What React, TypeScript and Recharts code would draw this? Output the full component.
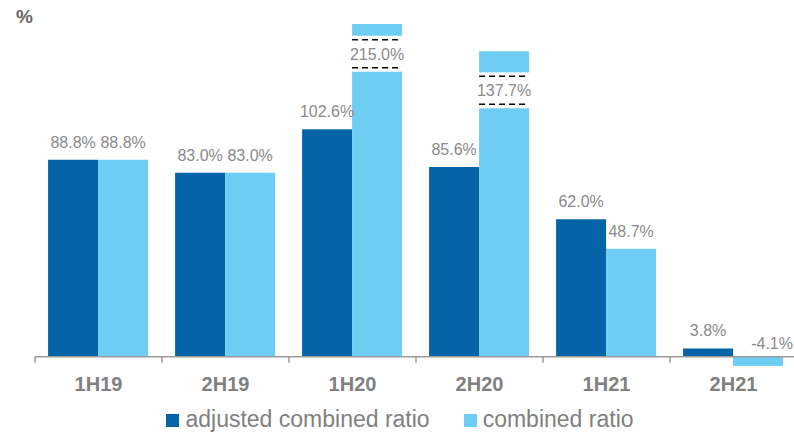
import { Bar, BarChart, LabelList, Legend, ReferenceLine, XAxis, YAxis } from 'recharts'

const categories = ['1H19', '2H19', '1H20', '2H20', '1H21', '2H21']
const adjustedRatio = [88.8, 83.0, 102.6, 85.6, 62.0, 3.8]
const combinedRatio = [88.8, 83.0, 215.0, 137.7, 48.7, -4.1]
// bar heights as drawn (1H20 is cut by an axis break)
const combinedDrawn = [88.8, 83.0, 150.0, 137.7, 48.7, -4.1]
// axis break span, in value units, for the broken bars
const breakLow: (number | null)[] = [null, null, 128.5, 112.0, null, null]
const breakHigh: (number | null)[] = [null, null, 144.7, 128.2, null, null]

const DARK = '#0563a8'
const LIGHT = '#6dcdf3'
const LABEL = '#8a8a8a'
const FONT = '"Liberation Sans", Arial, sans-serif'

const data = categories.map((name, i) => ({
  name,
  adjusted: adjustedRatio[i],
  combined: combinedRatio[i],
  drawn: combinedDrawn[i],
  breakLow: breakLow[i],
  breakHigh: breakHigh[i],
}))

const fmt = (v: number) => `${v.toFixed(1)}%`

function BrokenBar(props: any) {
  const { x, y, width, height, fill, payload } = props
  const top = Math.min(y, y + height)
  const h = Math.abs(height)
  if (payload == null || payload.breakLow == null) {
    return <rect x={x} y={top} width={width} height={h} fill={fill} />
  }
  const base = top + h
  const ppu = h / payload.drawn
  const gapBottom = base - payload.breakLow * ppu
  const gapTop = base - payload.breakHigh * ppu
  return (
    <g>
      <rect x={x} y={top} width={width} height={gapTop - top} fill={fill} />
      <rect x={x} y={gapBottom} width={width} height={base - gapBottom} fill={fill} />
      <line x1={x} x2={x + width} y1={gapTop + 4} y2={gapTop + 4} stroke="#000" strokeWidth={1.5} strokeDasharray="6 4" />
      <line x1={x} x2={x + width} y1={gapBottom - 4} y2={gapBottom - 4} stroke="#000" strokeWidth={1.5} strokeDasharray="6 4" />
      <text
        x={x + width / 2}
        y={(gapTop + gapBottom) / 2 + 6}
        textAnchor="middle"
        fill={LABEL}
        fontSize={16}
        fontFamily={FONT}
      >
        {fmt(payload.combined)}
      </text>
    </g>
  )
}

function ValueLabel(props: any) {
  const { x, y, width, height, value, index, skipBreaks } = props
  if (skipBreaks && breakLow[index] != null) return null
  const top = Math.min(y, y + height)
  const neg = value < 0
  return (
    <text
      x={x + width / 2 + (neg ? 14 : 0)}
      y={neg ? top - 8 : top - 12}
      textAnchor="middle"
      fill={LABEL}
      fontSize={16}
      fontFamily={FONT}
    >
      {fmt(value)}
    </text>
  )
}

function CategoryTick(props: any) {
  const { x, y, payload } = props
  return (
    <text x={x} y={y + 12} textAnchor="middle" fill="#808080" fontSize={20} fontWeight="bold" fontFamily={FONT}>
      {payload.value}
    </text>
  )
}

function ZeroAxis(props: any) {
  const { x1, x2, y1 } = props
  const step = (x2 - x1) / categories.length
  return (
    <g>
      <line x1={x1} x2={x2} y1={y1} y2={y1} stroke="#9a9a9a" strokeWidth={1.5} />
      {categories.map((_, i) => (
        <line key={i} x1={x1 + i * step} x2={x1 + i * step} y1={y1} y2={y1 + 6} stroke="#9a9a9a" strokeWidth={1.5} />
      ))}
    </g>
  )
}

function LegendBox() {
  const items = [
    { label: 'adjusted combined ratio', color: DARK },
    { label: 'combined ratio', color: LIGHT },
  ]
  return (
    <div style={{ display: 'flex', justifyContent: 'center', gap: 34, fontFamily: FONT }}>
      {items.map((it) => (
        <div key={it.label} style={{ display: 'flex', alignItems: 'center' }}>
          <span style={{ width: 13, height: 13, background: it.color, marginRight: 6, marginTop: 2 }} />
          <span style={{ fontSize: 23, lineHeight: '23px', color: '#808080' }}>{it.label}</span>
        </div>
      ))}
    </div>
  )
}

export default function App() {
  return (
    <div
      style={{
        position: 'fixed',
        left: 0,
        top: 0,
        width: 794,
        height: 432,
        overflow: 'hidden',
        background: '#fff',
      }}
    >
      <div
        style={{
          position: 'absolute',
          left: 16,
          top: 6,
          fontFamily: FONT,
          fontWeight: 'bold',
          fontSize: 19,
          color: '#666',
        }}
      >
        %
      </div>
      <BarChart
        width={800}
        height={432}
        data={data}
        margin={{ top: 24, right: 3, left: 35, bottom: 0 }}
        barCategoryGap="10.3%"
        barGap={0}
      >
        <XAxis
          dataKey="name"
          height={53}
          axisLine={false}
          tickLine={false}
          tickSize={0}
          tickMargin={0}
          tick={<CategoryTick />}
          interval={0}
        />
        <YAxis hide domain={[-10, 150]} allowDataOverflow />
        <Bar dataKey="adjusted" fill={DARK} isAnimationActive={false}>
          <LabelList dataKey="adjusted" content={<ValueLabel />} />
        </Bar>
        <Bar dataKey="drawn" fill={LIGHT} shape={<BrokenBar />} isAnimationActive={false}>
          <LabelList dataKey="combined" content={<ValueLabel skipBreaks />} />
        </Bar>
        <ReferenceLine y={0} shape={<ZeroAxis />} />
        <Legend
          layout="horizontal"
          verticalAlign="middle"
          align="center"
          content={<LegendBox />}
          wrapperStyle={{ top: 408, left: 0, width: 800 }}
        />
      </BarChart>
    </div>
  )
}
